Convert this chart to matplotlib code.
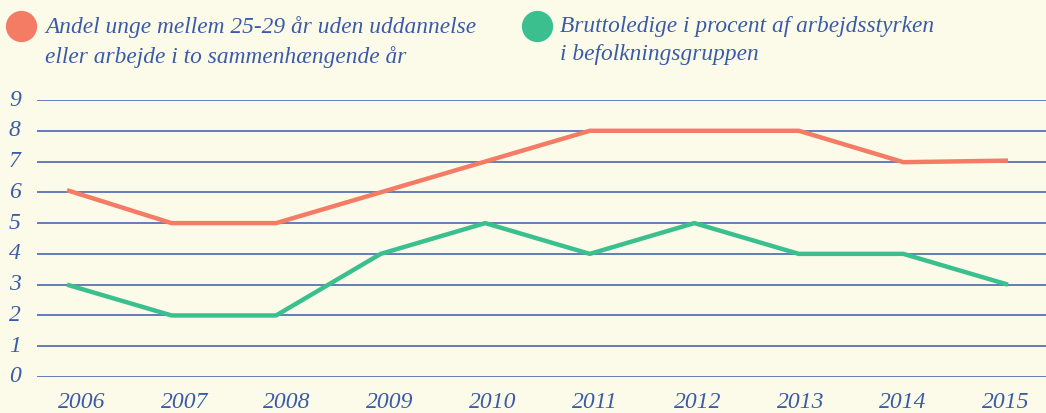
import matplotlib.pyplot as plt
from matplotlib.lines import Line2D

years = [2006, 2007, 2008, 2009, 2010, 2011, 2012, 2013, 2014, 2015]
andel_unge = [6.07, 5, 5, 6, 7, 8, 8, 8, 6.98, 7.03]
bruttoledige = [3, 2, 2, 4, 5, 4, 5, 4, 4, 3]
yticks = list(range(10))

label_a = "Andel unge mellem 25-29 år uden uddannelse\neller arbejde i to sammenhængende år"
label_b = "Bruttoledige i procent af arbejdsstyrken\ni befolkningsgruppen"

bg = "#fcfbea"
blue = "#3a5ba8"
orange = "#f47c64"
green = "#3bbf8f"

plt.rcParams['font.family'] = ['Liberation Serif', 'DejaVu Serif']

fig = plt.figure(figsize=(10.46, 4.13), dpi=100, facecolor=bg)
ax = fig.add_axes([37 / 1046, 36 / 413, 1009 / 1046, 277 / 413])
ax.set_facecolor(bg)

for y in yticks:
    ax.axhline(y, color=blue, lw=1.1, zorder=1)

ax.plot(years, andel_unge, color=orange, lw=3.2, solid_capstyle='butt', zorder=3)
ax.plot(years, bruttoledige, color=green, lw=3.2, solid_capstyle='butt', zorder=3)

ax.set_xlim(2006 - 30 / 104.56, 2015 + 38 / 104.56)
ax.set_ylim(0, 9)
ax.set_xticks([])
ax.set_yticks([])
for s in ax.spines.values():
    s.set_visible(False)

# tick labels drawn as text (labels sit slightly off the data points in the original)
n = len(years)
for i, yr in enumerate(years):
    shift = 0.14 - 0.16 * i / (n - 1)
    ax.text(yr + shift, -0.83, str(yr), ha='center', va='center', fontsize=17,
            style='italic', color=blue, clip_on=False)
ytrans = ax.get_yaxis_transform()
for y in yticks:
    ax.text(-0.022, y, str(y), transform=ytrans, ha='center', va='center', fontsize=17,
            style='italic', color=blue, clip_on=False)

# legend
for x, c in [(21, orange), (537, green)]:
    fig.add_artist(Line2D([x / 1046], [1 - 26 / 413], marker='o', markersize=21.5,
                          color=c, linestyle='none', transform=fig.transFigure))
fig.text(45 / 1046, 1 - 16 / 413, label_a, ha='left', va='top', fontsize=16.8,
         style='italic', color=blue, linespacing=1.45)
fig.text(560 / 1046, 1 - 16 / 413, label_b, ha='left', va='top', fontsize=16.8,
         style='italic', color=blue, linespacing=1.45)

fig.savefig("out.png", dpi=100, facecolor=bg)
